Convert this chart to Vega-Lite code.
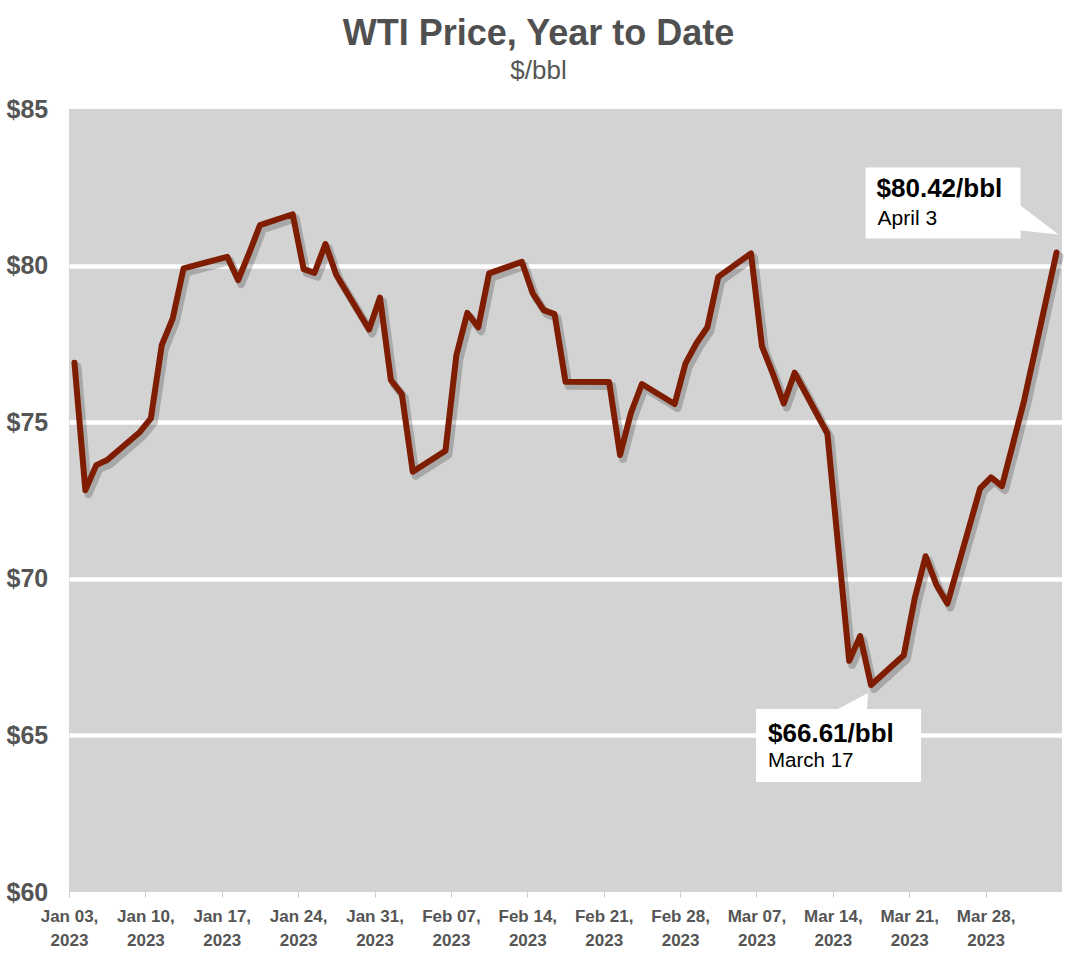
{
  "$schema": "https://vega.github.io/schema/vega-lite/v6.json",
  "width": 993,
  "height": 783,
  "autosize": {"type": "none"},
  "padding": {"left": 69, "top": 109, "right": 16, "bottom": 64},
  "background": "white",
  "config": {
    "view": {"fill": "#d3d3d3", "stroke": null},
    "font": "Liberation Sans"
  },
  "title": {
    "text": "WTI Price, Year to Date",
    "subtitle": "$/bbl",
    "anchor": "middle",
    "frame": "group",
    "dx": -27,
    "font": "Liberation Sans",
    "fontSize": 36,
    "fontWeight": "bold",
    "color": "#505050",
    "subtitleFont": "Liberation Sans",
    "subtitleFontSize": 26,
    "subtitleColor": "#555555",
    "subtitlePadding": 5,
    "offset": 12
  },
  "datasets": {
    "wti": [
      {"date": "2023-01-03", "price": 76.9},
      {"date": "2023-01-04", "price": 72.83},
      {"date": "2023-01-05", "price": 73.63},
      {"date": "2023-01-06", "price": 73.79},
      {"date": "2023-01-09", "price": 74.69},
      {"date": "2023-01-10", "price": 75.12},
      {"date": "2023-01-11", "price": 77.46},
      {"date": "2023-01-12", "price": 78.31},
      {"date": "2023-01-13", "price": 79.91},
      {"date": "2023-01-17", "price": 80.28},
      {"date": "2023-01-18", "price": 79.54},
      {"date": "2023-01-19", "price": 80.39},
      {"date": "2023-01-20", "price": 81.29},
      {"date": "2023-01-23", "price": 81.64},
      {"date": "2023-01-24", "price": 79.89},
      {"date": "2023-01-25", "price": 79.77},
      {"date": "2023-01-26", "price": 80.69},
      {"date": "2023-01-27", "price": 79.7},
      {"date": "2023-01-30", "price": 77.96},
      {"date": "2023-01-31", "price": 78.98},
      {"date": "2023-02-01", "price": 76.34},
      {"date": "2023-02-02", "price": 75.9},
      {"date": "2023-02-03", "price": 73.42},
      {"date": "2023-02-06", "price": 74.09},
      {"date": "2023-02-07", "price": 77.14},
      {"date": "2023-02-08", "price": 78.49},
      {"date": "2023-02-09", "price": 78.03},
      {"date": "2023-02-10", "price": 79.75},
      {"date": "2023-02-13", "price": 80.12},
      {"date": "2023-02-14", "price": 79.11},
      {"date": "2023-02-15", "price": 78.58},
      {"date": "2023-02-16", "price": 78.45},
      {"date": "2023-02-17", "price": 76.29},
      {"date": "2023-02-21", "price": 76.28},
      {"date": "2023-02-22", "price": 73.95},
      {"date": "2023-02-23", "price": 75.3},
      {"date": "2023-02-24", "price": 76.22},
      {"date": "2023-02-27", "price": 75.58},
      {"date": "2023-02-28", "price": 76.88},
      {"date": "2023-03-01", "price": 77.52},
      {"date": "2023-03-02", "price": 78.03},
      {"date": "2023-03-03", "price": 79.64},
      {"date": "2023-03-06", "price": 80.39},
      {"date": "2023-03-07", "price": 77.43},
      {"date": "2023-03-08", "price": 76.55},
      {"date": "2023-03-09", "price": 75.6},
      {"date": "2023-03-10", "price": 76.58},
      {"date": "2023-03-13", "price": 74.64},
      {"date": "2023-03-14", "price": 71.0},
      {"date": "2023-03-15", "price": 67.38},
      {"date": "2023-03-16", "price": 68.17},
      {"date": "2023-03-17", "price": 66.61},
      {"date": "2023-03-20", "price": 67.56},
      {"date": "2023-03-21", "price": 69.37},
      {"date": "2023-03-22", "price": 70.72},
      {"date": "2023-03-23", "price": 69.8},
      {"date": "2023-03-24", "price": 69.21},
      {"date": "2023-03-27", "price": 72.89},
      {"date": "2023-03-28", "price": 73.24},
      {"date": "2023-03-29", "price": 72.96},
      {"date": "2023-03-30", "price": 74.3},
      {"date": "2023-03-31", "price": 75.65},
      {"date": "2023-04-03", "price": 80.42}
    ],
    "callouts": [
      {"date": "2023-04-03", "price": 80.42, "label": "$80.42/bbl", "note": "April 3"},
      {"date": "2023-03-17", "price": 66.61, "label": "$66.61/bbl", "note": "March 17"}
    ]
  },
  "encoding": {
    "x": {
      "field": "date",
      "type": "temporal",
      "timeUnit": "utcyearmonthdate",
      "bandPosition": 0.5,
      "title": null,
      "scale": {
        "type": "utc",
        "domain": [
          {"year": 2023, "month": 1, "date": 3, "utc": true},
          {"year": 2023, "month": 4, "date": 4, "utc": true}
        ]
      },
      "axis": {
        "values": [
          {"year": 2023, "month": 1, "date": 3, "utc": true},
          {"year": 2023, "month": 1, "date": 10, "utc": true},
          {"year": 2023, "month": 1, "date": 17, "utc": true},
          {"year": 2023, "month": 1, "date": 24, "utc": true},
          {"year": 2023, "month": 1, "date": 31, "utc": true},
          {"year": 2023, "month": 2, "date": 7, "utc": true},
          {"year": 2023, "month": 2, "date": 14, "utc": true},
          {"year": 2023, "month": 2, "date": 21, "utc": true},
          {"year": 2023, "month": 2, "date": 28, "utc": true},
          {"year": 2023, "month": 3, "date": 7, "utc": true},
          {"year": 2023, "month": 3, "date": 14, "utc": true},
          {"year": 2023, "month": 3, "date": 21, "utc": true},
          {"year": 2023, "month": 3, "date": 28, "utc": true}
        ],
        "labelExpr": "[utcFormat(datum.value, '%b %d,'), utcFormat(datum.value, '%Y')]",
        "labelFont": "Liberation Sans",
        "labelFontSize": 17,
        "labelFontWeight": "bold",
        "labelColor": "#555555",
        "labelLineHeight": 24,
        "labelBaseline": "alphabetic",
        "labelPadding": 24,
        "labelAlign": "center",
        "labelFlush": false,
        "labelOverlap": false,
        "labelBound": false,
        "domain": false,
        "grid": false,
        "ticks": true,
        "tickSize": 5,
        "tickColor": "#c8c8c8",
        "tickWidth": 1
      }
    },
    "y": {
      "field": "price",
      "type": "quantitative",
      "title": null,
      "scale": {"domain": [60, 85], "nice": false, "zero": false},
      "axis": {
        "values": [60, 65, 70, 75, 80, 85],
        "labelExpr": "'$' + datum.value",
        "labelFont": "Liberation Sans",
        "labelFontSize": 25,
        "labelFontWeight": "bold",
        "labelColor": "#555555",
        "labelAlign": "left",
        "labelBaseline": "middle",
        "labelPadding": 63,
        "ticks": false,
        "tickSize": 0,
        "domain": false,
        "grid": true,
        "gridColor": "white",
        "gridWidth": 4.5,
        "gridOpacity": {"condition": {"test": "datum.value == 60 || datum.value == 85", "value": 0}, "value": 1}
      }
    }
  },
  "layer": [
    {
      "data": {"name": "wti"},
      "mark": {"type": "line", "color": "#000000", "opacity": 0.2, "strokeWidth": 8, "xOffset": 3, "yOffset": 4, "strokeJoin": "round", "strokeCap": "round"}
    },
    {
      "data": {"name": "wti"},
      "mark": {"type": "line", "color": "#7f1d02", "strokeWidth": 6, "strokeJoin": "round", "strokeCap": "round"}
    },
    {
      "data": {"name": "callouts"},
      "transform": [{"filter": "datum.note == 'April 3'"}],
      "mark": {"type": "point", "shape": "M-191,-85L-36,-85L-36,-47L2,-18L-36,-22L-36,-14L-191,-14Z", "size": 4, "filled": true, "fill": "white", "opacity": 1, "strokeWidth": 0}
    },
    {
      "data": {"name": "callouts"},
      "transform": [{"filter": "datum.note == 'March 17'"}],
      "mark": {"type": "point", "shape": "M-115,24L-33,24L-3,8L-4,24L50,24L50,97L-115,97Z", "size": 4, "filled": true, "fill": "white", "opacity": 1, "strokeWidth": 0}
    },
    {
      "data": {"name": "callouts"},
      "transform": [{"filter": "datum.note == 'April 3'"}],
      "mark": {"type": "text", "align": "left", "baseline": "alphabetic", "dx": -180, "dy": -55, "font": "Liberation Sans", "fontSize": 26, "fontWeight": "bold", "color": "#000000"},
      "encoding": {"text": {"field": "label"}}
    },
    {
      "data": {"name": "callouts"},
      "transform": [{"filter": "datum.note == 'April 3'"}],
      "mark": {"type": "text", "align": "left", "baseline": "alphabetic", "dx": -179, "dy": -27, "font": "Liberation Sans", "fontSize": 21, "color": "#000000"},
      "encoding": {"text": {"field": "note"}}
    },
    {
      "data": {"name": "callouts"},
      "transform": [{"filter": "datum.note == 'March 17'"}],
      "mark": {"type": "text", "align": "left", "baseline": "alphabetic", "dx": -103, "dy": 57, "font": "Liberation Sans", "fontSize": 26, "fontWeight": "bold", "color": "#000000"},
      "encoding": {"text": {"field": "label"}}
    },
    {
      "data": {"name": "callouts"},
      "transform": [{"filter": "datum.note == 'March 17'"}],
      "mark": {"type": "text", "align": "left", "baseline": "alphabetic", "dx": -103, "dy": 82, "font": "Liberation Sans", "fontSize": 20.5, "color": "#000000"},
      "encoding": {"text": {"field": "note"}}
    }
  ]
}
